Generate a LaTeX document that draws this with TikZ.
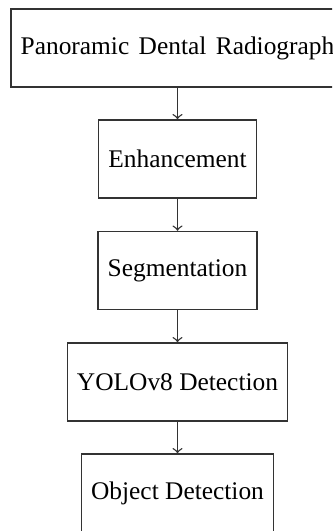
\documentclass[tikz,border=0pt]{standalone}
\usepackage{fontspec}
\setmainfont{Liberation Serif}
\begin{document}
\begin{tikzpicture}[x=0.4pt,y=-0.4pt,
  stage/.style={draw=black!80, line width=0.55pt, rectangle, minimum height=31.2pt,
    inner xsep=3.9pt, inner ysep=0pt, font=\fontsize{10.16}{12}\selectfont, text=black},
  flow/.style={draw=black!80, line width=0.55pt, ->}]
  \useasboundingbox (0,0) rectangle (332,531);
  \clip (0,0) rectangle (332,531);
  \node[stage] (pdr) at (177.5,48) {\spaceskip=0.37em\relax Panoramic Dental Radiograph};
  \node[stage] (enh) at (177.5,159) {Enhancement};
  \node[stage] (seg) at (177.5,270.5) {Segmentation};
  \node[stage] (yolo) at (177.5,382) {YOLOv8 Detection};
  \node[stage] (obj) at (177.5,493) {Object Detection};
  \draw[flow] (pdr) -- (enh);
  \draw[flow] (enh) -- (seg);
  \draw[flow] (seg) -- (yolo);
  \draw[flow] (yolo) -- (obj);
\end{tikzpicture}
\end{document}
